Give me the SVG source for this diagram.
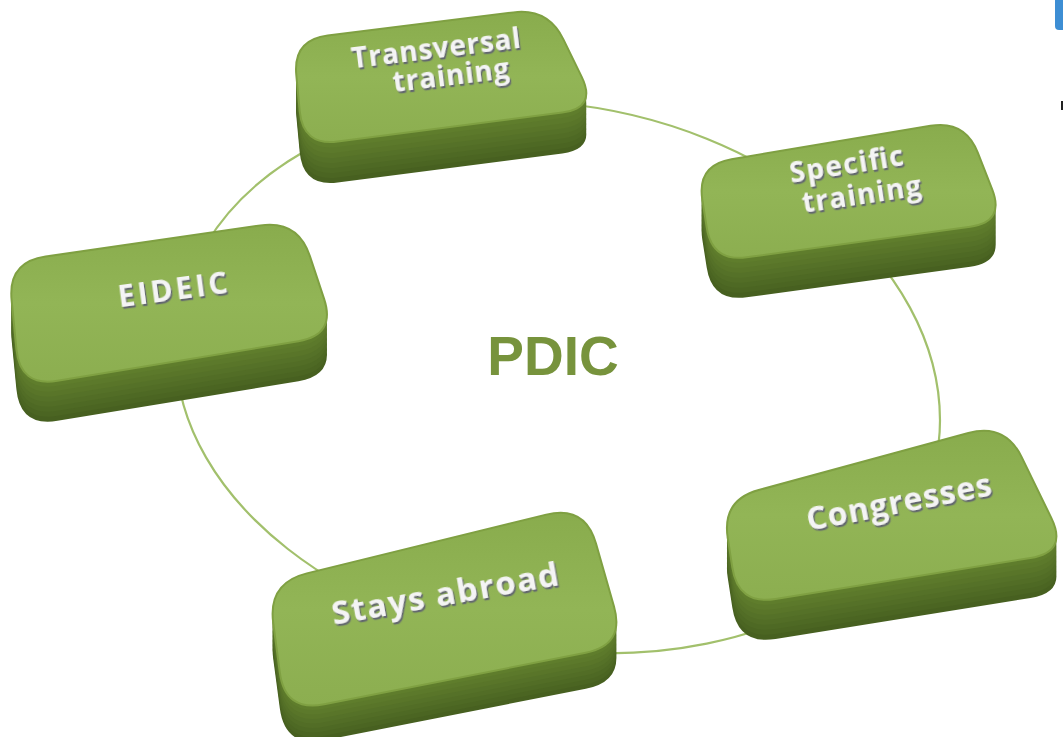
<svg xmlns="http://www.w3.org/2000/svg" xmlns:xlink="http://www.w3.org/1999/xlink" width="1063" height="737" viewBox="0 0 1063 737">
<defs>
<linearGradient id="topg" x1="0" y1="0" x2="0" y2="1">
<stop offset="0" stop-color="#89ac4d"/>
<stop offset="0.5" stop-color="#92b556"/>
<stop offset="1" stop-color="#8cae50"/>
</linearGradient>
<filter id="ts" x="-10%" y="-30%" width="130%" height="170%">
<feDropShadow dx="1.2" dy="2.2" stdDeviation="0.4" flood-color="#5e6470" flood-opacity="0.95"/>
</filter>
<path id="f1" d="M327.7,35.6 L513.3,12.4 Q548,8 563.4,39.4 L581.6,76.6 Q597,108 562.3,112.5 L337.7,141.5 Q303,146 299.7,111.2 L296.3,74.8 Q293,40 327.7,35.6 Z"/>
<path id="f2" d="M731.5,159.2 L930.5,125.8 Q965,120 977.8,152.6 L992.2,189.4 Q1005,222 970.3,226.7 L746.7,257.3 Q712,262 706.7,227.4 L702.3,199.6 Q697,165 731.5,159.2 Z"/>
<path id="f3" d="M45.6,256.6 L260.4,225.4 Q298,220 309.9,256.1 L324.1,298.9 Q336,335 298.5,341.2 L57.5,380.8 Q20,387 16.4,349.2 L11.6,299.8 Q8,262 45.6,256.6 Z"/>
<path id="f4" d="M758.7,490 L968.3,433 Q1005,423 1021.7,457.1 L1051.3,517.9 Q1068,552 1030.5,558 L775.5,599 Q738,605 732.3,567.4 L727.7,537.6 Q722,500 758.7,490 Z"/>
<path id="f5" d="M306.8,573.4 L546.2,514.6 Q585,505 596,543.5 L614,606.5 Q625,645 585.8,652.7 L324.2,704.3 Q285,712 279.8,672.3 L273.2,622.7 Q268,583 306.8,573.4 Z"/>
</defs>
<style>
.s1{fill:#5f7d2c}.s2{fill:#5c792b}.s3{fill:#597529}.s4{fill:#557128}.s5{fill:#526d26}.s6{fill:#4e6924}.s7{fill:#4b6522}.s8{fill:#476020}
.top{fill:url(#topg);stroke:#7fa042;stroke-width:2}
.lbl{font-family:"Open Sans","DejaVu Sans",sans-serif;font-weight:700;fill:#f4f4f4;text-anchor:middle;filter:url(#ts)}
.ring{fill:none;stroke:#a2c06c;stroke-width:2.2}
</style>
<rect width="1063" height="737" fill="#ffffff"/>
<g id="connectors">
<path class="ring" d="M940,420.5 C940,264.2 769,122.1 558,103 C347,83.95 176,195.2 176,351.5 C176,497.9 347,631.95 558,651 C769,670.05 940,566.9 940,420.5 Z"/>
</g>
<text x="553" y="375" font-family="'Liberation Sans',Arial,sans-serif" font-weight="700" font-size="55" fill="#77933c" text-anchor="middle">PDIC</text>
<g id="node-transversal">
<use href="#f1" y="41" class="s8"/><use href="#f1" y="36" class="s7"/><use href="#f1" y="31" class="s6"/><use href="#f1" y="26" class="s5"/><use href="#f1" y="21" class="s4"/><use href="#f1" y="16" class="s3"/><use href="#f1" y="11" class="s2"/><use href="#f1" y="5.5" class="s1"/>
<use href="#f1" class="top"/>
<text class="lbl" font-size="28" x="437" y="57.5" textLength="170" lengthAdjust="spacing" transform="rotate(-7 437 57.5)">Transversal</text>
<text class="lbl" font-size="28" x="452" y="85" textLength="117" lengthAdjust="spacing" transform="rotate(-7 452 85)">training</text>
</g>
<g id="node-specific">
<use href="#f2" y="40" class="s8"/><use href="#f2" y="35" class="s7"/><use href="#f2" y="30" class="s6"/><use href="#f2" y="25" class="s5"/><use href="#f2" y="20" class="s4"/><use href="#f2" y="15" class="s3"/><use href="#f2" y="10" class="s2"/><use href="#f2" y="5" class="s1"/>
<use href="#f2" class="top"/>
<text class="lbl" font-size="28" x="848" y="174" textLength="115" lengthAdjust="spacing" transform="rotate(-9 848 174)">Specific</text>
<text class="lbl" font-size="28" x="863" y="204" textLength="120" lengthAdjust="spacing" transform="rotate(-8.5 863 204)">training</text>
</g>
<g id="node-eideic">
<use href="#f3" y="40" class="s8"/><use href="#f3" y="35" class="s7"/><use href="#f3" y="30" class="s6"/><use href="#f3" y="25" class="s5"/><use href="#f3" y="20" class="s4"/><use href="#f3" y="15" class="s3"/><use href="#f3" y="10" class="s2"/><use href="#f3" y="5" class="s1"/>
<use href="#f3" class="top"/>
<text class="lbl" font-size="30" x="174" y="300" textLength="110" lengthAdjust="spacing" transform="rotate(-7.6 174 300)">EIDEIC</text>
</g>
<g id="node-congresses">
<use href="#f4" y="40" class="s8"/><use href="#f4" y="35" class="s7"/><use href="#f4" y="30" class="s6"/><use href="#f4" y="25" class="s5"/><use href="#f4" y="20" class="s4"/><use href="#f4" y="15" class="s3"/><use href="#f4" y="10" class="s2"/><use href="#f4" y="5" class="s1"/>
<use href="#f4" class="top"/>
<text class="lbl" font-size="32" x="901" y="513" textLength="188" lengthAdjust="spacing" transform="rotate(-11 901 513)">Congresses</text>
</g>
<g id="node-stays">
<use href="#f5" y="36" class="s8"/><use href="#f5" y="31.5" class="s7"/><use href="#f5" y="27" class="s6"/><use href="#f5" y="22.5" class="s5"/><use href="#f5" y="18" class="s4"/><use href="#f5" y="13.5" class="s3"/><use href="#f5" y="9" class="s2"/><use href="#f5" y="4.5" class="s1"/>
<use href="#f5" class="top"/>
<text class="lbl" font-size="33" x="447" y="605" textLength="230" lengthAdjust="spacing" transform="rotate(-10 447 605)">Stays abroad</text>
</g>
<g id="edge-marks">
<rect x="1055" y="-10" width="20" height="40" rx="4" fill="#3d8ed4"/>
<rect x="1061" y="101" width="2" height="9" fill="#222222"/>
</g>
</svg>
